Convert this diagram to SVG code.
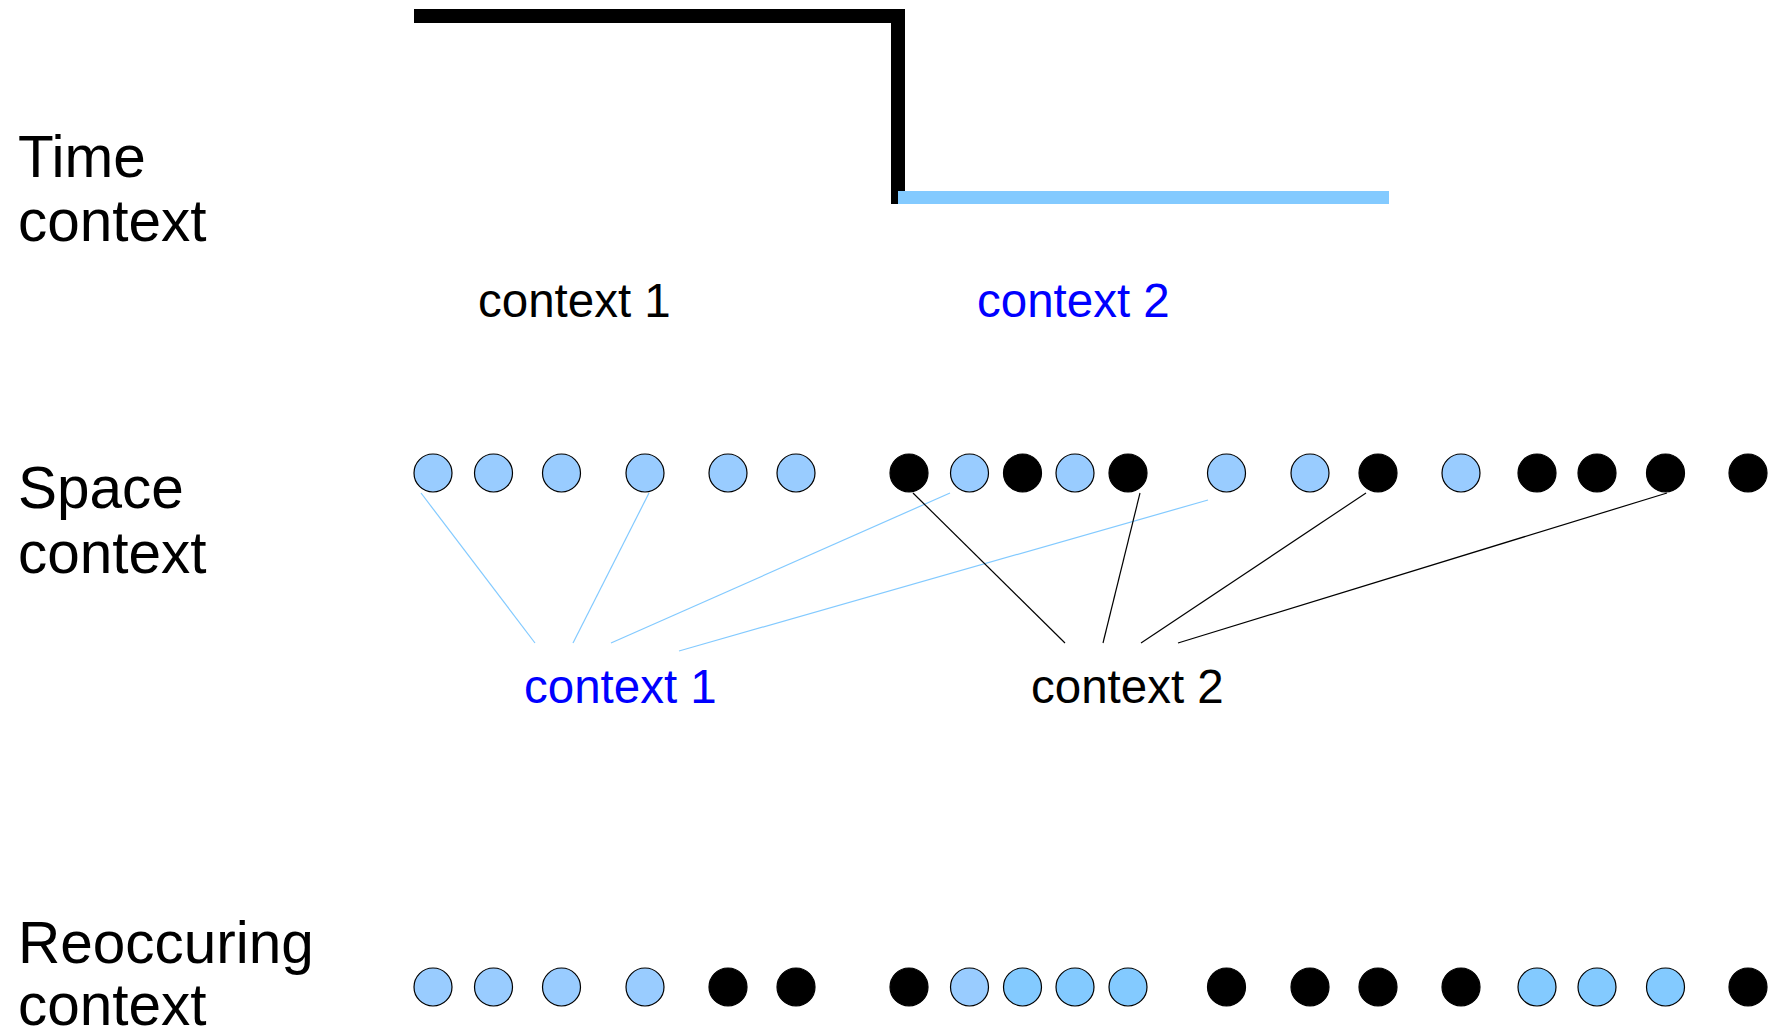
<svg xmlns="http://www.w3.org/2000/svg" width="1778" height="1032" viewBox="0 0 1778 1032">
<style>
text{font-family:"Liberation Sans",Arial,sans-serif;}
.big{font-size:58.5px;fill:#000;}
.lab{font-size:47.5px;}
.k{fill:#000;}
.b{fill:#0000ff;}
.lb{fill:#99ccff;stroke:#000;stroke-width:1.2;}
.mb{fill:#83caff;stroke:#000;stroke-width:1.2;}
.bk{fill:#000;stroke:#000;stroke-width:1.2;}
.cb{stroke:#83caff;stroke-width:1.2;fill:none;}
.ck{stroke:#000;stroke-width:1.2;fill:none;}
</style>
<rect width="1778" height="1032" fill="#fff"/>
<g id="time-signal">
<path d="M414 16 H898 V204" fill="none" stroke="#000" stroke-width="14"/>
<rect x="898" y="191" width="491" height="13" fill="#83caff"/>
</g>
<g id="labels">
<text class="big" x="18" y="177">Time</text>
<text class="big" x="18" y="241">context</text>
<text class="big" x="18" y="508">Space</text>
<text class="big" x="18" y="573">context</text>
<text class="big" x="18" y="963">Reoccuring</text>
<text class="big" x="18" y="1025">context</text>
</g>
<g id="time-context-1"><text class="lab k" x="478" y="317">context 1</text></g>
<g id="time-context-2"><text class="lab b" x="977" y="317">context 2</text></g>
<g id="space-context-1"><text class="lab b" x="524" y="703">context 1</text></g>
<g id="space-context-2"><text class="lab k" x="1031" y="703">context 2</text></g>
<g id="connectors">
<line class="cb" x1="421" y1="493" x2="535" y2="643"/>
<line class="cb" x1="649" y1="493" x2="573" y2="643"/>
<line class="cb" x1="950" y1="493" x2="611" y2="643"/>
<line class="cb" x1="1208" y1="500" x2="679" y2="651"/>
<line class="ck" x1="913" y1="493" x2="1065" y2="643"/>
<line class="ck" x1="1140" y1="493" x2="1103" y2="643"/>
<line class="ck" x1="1366" y1="493" x2="1141" y2="643"/>
<line class="ck" x1="1667" y1="493" x2="1178" y2="643"/>
</g>
<g id="space-row">
<circle class="lb" cx="433" cy="473" r="19"/>
<circle class="lb" cx="493.5" cy="473" r="19"/>
<circle class="lb" cx="561.5" cy="473" r="19"/>
<circle class="lb" cx="645" cy="473" r="19"/>
<circle class="lb" cx="728" cy="473" r="19"/>
<circle class="lb" cx="796" cy="473" r="19"/>
<circle class="bk" cx="909" cy="473" r="19"/>
<circle class="lb" cx="969.5" cy="473" r="19"/>
<circle class="bk" cx="1022.5" cy="473" r="19"/>
<circle class="lb" cx="1075" cy="473" r="19"/>
<circle class="bk" cx="1128" cy="473" r="19"/>
<circle class="lb" cx="1226.5" cy="473" r="19"/>
<circle class="lb" cx="1310" cy="473" r="19"/>
<circle class="bk" cx="1378" cy="473" r="19"/>
<circle class="lb" cx="1461" cy="473" r="19"/>
<circle class="bk" cx="1537" cy="473" r="19"/>
<circle class="bk" cx="1597" cy="473" r="19"/>
<circle class="bk" cx="1665.5" cy="473" r="19"/>
<circle class="bk" cx="1748" cy="473" r="19"/>
</g>
<g id="reoccuring-row">
<circle class="lb" cx="433" cy="987" r="19"/>
<circle class="lb" cx="493.5" cy="987" r="19"/>
<circle class="lb" cx="561.5" cy="987" r="19"/>
<circle class="lb" cx="645" cy="987" r="19"/>
<circle class="bk" cx="728" cy="987" r="19"/>
<circle class="bk" cx="796" cy="987" r="19"/>
<circle class="bk" cx="909" cy="987" r="19"/>
<circle class="lb" cx="969.5" cy="987" r="19"/>
<circle class="mb" cx="1022.5" cy="987" r="19"/>
<circle class="mb" cx="1075" cy="987" r="19"/>
<circle class="mb" cx="1128" cy="987" r="19"/>
<circle class="bk" cx="1226.5" cy="987" r="19"/>
<circle class="bk" cx="1310" cy="987" r="19"/>
<circle class="bk" cx="1378" cy="987" r="19"/>
<circle class="bk" cx="1461" cy="987" r="19"/>
<circle class="mb" cx="1537" cy="987" r="19"/>
<circle class="mb" cx="1597" cy="987" r="19"/>
<circle class="mb" cx="1665.5" cy="987" r="19"/>
<circle class="bk" cx="1748" cy="987" r="19"/>
</g>
</svg>
